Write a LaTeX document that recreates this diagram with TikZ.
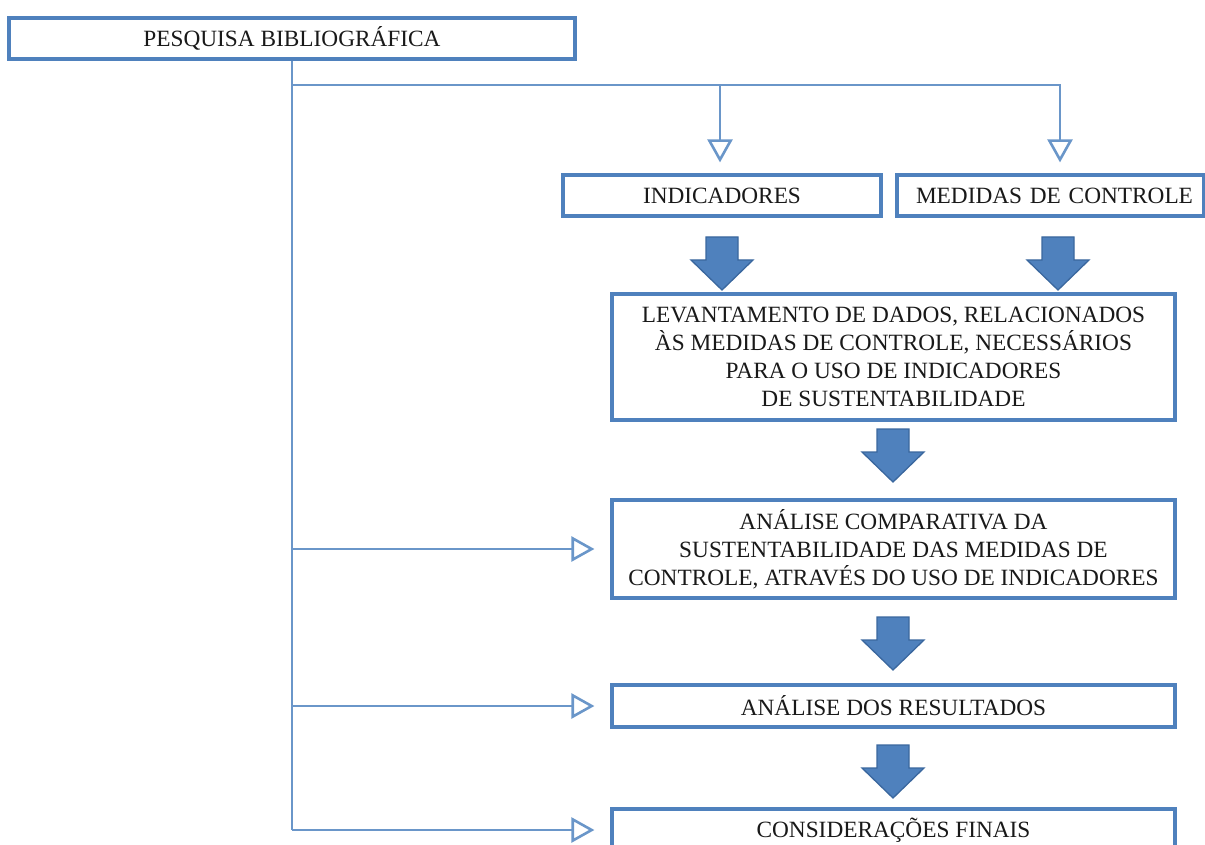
\documentclass[tikz,border=0pt]{standalone}
\usepackage{fontspec}
\setmainfont{Liberation Serif}
\usetikzlibrary{arrows.meta}
\definecolor{boxblue}{HTML}{4F81BD}
\definecolor{linkblue}{HTML}{6A96C9}
\definecolor{arrowedge}{HTML}{3A679E}
\begin{document}
\begin{tikzpicture}[x=1pt,y=-1pt,
  stage/.style={draw=boxblue, line width=3.2pt, fill=white, minimum height=41pt,
    minimum width=563pt, inner sep=0pt, align=center, text=black!90,
    font=\fontsize{23.3}{28}\selectfont},
  link/.style={draw=linkblue, line width=1.4pt,
    -{Triangle[open, length=23pt, width=25pt, line width=2.6pt]}},
  fat/.pic={\filldraw[fill=boxblue, draw=arrowedge, line width=1.3pt]
    (-16,0) -- (16,0) -- (16,23) -- (31,23) -- (0,53) -- (-31,23) -- (-16,23) -- cycle;}
]
\useasboundingbox (0,0) rectangle (1205,845);
\clip (0,0) rectangle (1205,845);

% boxes
\node[stage, minimum width=566pt] (pesq) at (292,38.5) {PESQUISA BIBLIOGRÁFICA};
\node[stage, minimum width=318pt] (ind) at (722,195.5) {INDICADORES};
\node[stage, minimum width=307pt, text width=285pt, inner xsep=11pt, align=right]
  (med) at (1050.5,195.5) {MEDIDAS DE CONTROLE};
\node[stage, minimum height=126pt] (lev) at (893.5,357)
  {LEVANTAMENTO DE DADOS, RELACIONADOS\\ÀS MEDIDAS DE CONTROLE, NECESSÁRIOS\\PARA O USO DE INDICADORES\\DE SUSTENTABILIDADE};
\node[stage, minimum height=98pt] (comp) at (893.5,549)
  {ANÁLISE COMPARATIVA DA\\SUSTENTABILIDADE DAS MEDIDAS DE\\CONTROLE, ATRAVÉS DO USO DE INDICADORES};
\node[stage, minimum height=42pt] (res) at (893.5,706) {ANÁLISE DOS RESULTADOS};
\node[stage, minimum height=42pt] (cons) at (893.5,830) {CONSIDERAÇÕES FINAIS};

% thin connectors from the literature review
\coordinate (split) at (292,85);
\draw[draw=linkblue, line width=1.4pt] (pesq.south) -- (pesq.south |- cons.west);
\draw[draw=linkblue, line width=1.4pt] (split) -- (1060,85);
\draw[link, shorten >=11pt] (split) -| ([xshift=-2pt]ind.north);
\draw[link, shorten >=11pt] (split) -| ([xshift=9.5pt]med.north);
\draw[link, shorten >=16pt] (pesq.south |- comp.west) -- (comp.west);
\draw[link, shorten >=16pt] (pesq.south |- res.west) -- (res.west);
\draw[link, shorten >=16pt] (pesq.south |- cons.west) -- (cons.west);

% block arrows between stages
\pic at (722,237) {fat};
\pic at (1058,237) {fat};
\pic at (893,429) {fat};
\pic at (893,617) {fat};
\pic at (893,745) {fat};
\end{tikzpicture}
\end{document}
